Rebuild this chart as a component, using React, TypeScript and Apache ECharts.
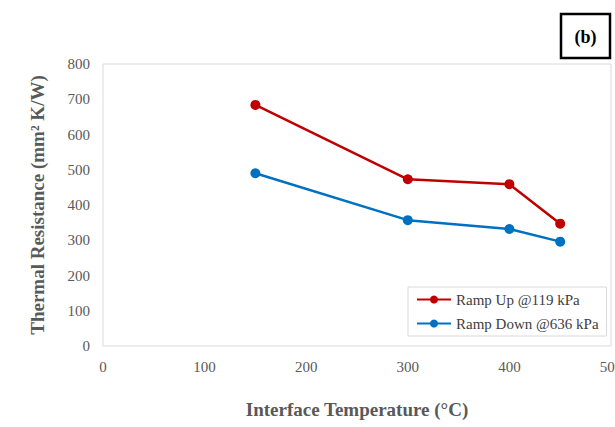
import React, { useEffect, useRef } from "react";
import * as echarts from "echarts";

const temperatures = [150, 300, 400, 450];
const rampUp = [684, 473, 459, 347];
const rampDown = [490, 357, 332, 296];
const seriesNames = ["Ramp Up @119 kPa", "Ramp Down @636 kPa"];
const xTitle = "Interface Temperature (°C)";
const yTitle = "Thermal Resistance (mm² K/W)";
const panelLabel = "(b)";

const FONT = "Liberation Serif";

export default function App() {
  const ref = useRef<HTMLDivElement>(null);
  useEffect(() => {
    if (!ref.current) return;
    const chart = echarts.init(ref.current, null, { renderer: "svg" });
    const toPairs = (ys: number[]) => temperatures.map((t, i) => [t, ys[i]]);
    chart.setOption({
      animation: false,
      backgroundColor: "#ffffff",
      textStyle: { fontFamily: FONT },
      grid: {
        left: 103,
        right: 4,
        top: 64,
        bottom: 81,
        show: true,
        borderColor: "#d9d9d9",
        borderWidth: 1,
        backgroundColor: "transparent",
        containLabel: false,
        outerBoundsMode: "none",
      },
      xAxis: {
        type: "value",
        min: 0,
        max: 500,
        interval: 100,
        name: xTitle,
        nameLocation: "middle",
        nameGap: 54,
        nameTextStyle: { fontFamily: FONT, fontSize: 19, fontWeight: "bold", color: "#595959" },
        axisLine: { show: false },
        axisTick: { show: false },
        splitLine: { show: false },
        axisLabel: { fontFamily: FONT, fontSize: 15, color: "#595959", margin: 13 },
      },
      yAxis: {
        type: "value",
        min: 0,
        max: 800,
        interval: 100,
        name: yTitle,
        nameLocation: "middle",
        nameGap: 56,
        nameTextStyle: { fontFamily: FONT, fontSize: 19, fontWeight: "bold", color: "#595959" },
        axisLine: { show: false },
        axisTick: { show: false },
        splitLine: { show: false },
        axisLabel: { fontFamily: FONT, fontSize: 15, color: "#595959", margin: 13 },
      },
      legend: {
        left: 408,
        top: 287,
        orient: "vertical",
        backgroundColor: "#ffffff",
        borderColor: "#d9d9d9",
        borderWidth: 1,
        padding: [5, 8, 5, 8],
        itemGap: 9,
        itemWidth: 34,
        itemHeight: 10,
        textStyle: { fontFamily: FONT, fontSize: 15, color: "#404040" },
        data: seriesNames,
      },
      series: [
        {
          name: seriesNames[0],
          type: "line",
          data: toPairs(rampUp),
          symbol: "circle",
          symbolSize: 10,
          lineStyle: { width: 2.5, color: "#C00000" },
          itemStyle: { color: "#C00000" },
        },
        {
          name: seriesNames[1],
          type: "line",
          data: toPairs(rampDown),
          symbol: "circle",
          symbolSize: 10,
          lineStyle: { width: 2.5, color: "#0070C0" },
          itemStyle: { color: "#0070C0" },
        },
      ],
      graphic: [
        {
          type: "rect",
          shape: { x: 561, y: 14, width: 49, height: 44 },
          style: { fill: "#ffffff", stroke: "#000000", lineWidth: 2.5 },
        },
        {
          type: "text",
          x: 585.5,
          y: 37,
          style: {
            text: panelLabel,
            fontFamily: FONT,
            fontSize: 18,
            fontWeight: "bold",
            fill: "#000000",
            align: "center",
            verticalAlign: "middle",
          },
        },
      ],
    });
    return () => chart.dispose();
  }, []);
  return (
    <div
      ref={ref}
      style={{ position: "fixed", left: 0, top: 0, width: 615, height: 427 }}
    />
  );
}
